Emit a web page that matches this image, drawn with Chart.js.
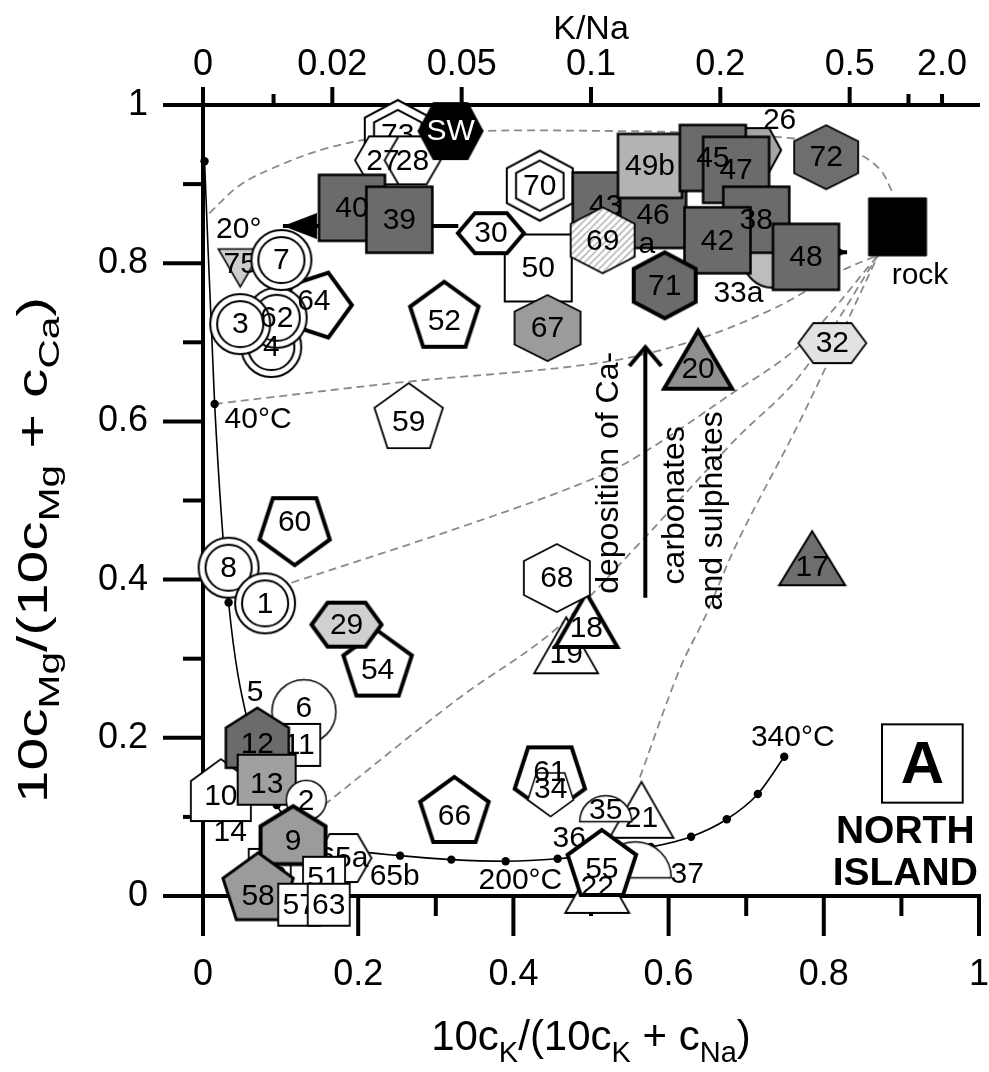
<!DOCTYPE html>
<html><head><meta charset="utf-8">
<script src="https://cdn.jsdelivr.net/npm/chart.js@4.4.1/dist/chart.umd.min.js"></script>
<style>
html,body{margin:0;padding:0;background:#fff;overflow:hidden;width:989px;height:1072px}
#wrap{position:absolute;left:0;top:0;width:1010px;height:1072px}
canvas{display:block}
</style></head>
<body><div id="wrap"><canvas id="c" width="1010" height="1072"></canvas></div>
<script>
// ================= DATA =================
// samples (draw order: first = bottom)
const sampleIds = ['73','27','28','SW','40','39','64','4','62','3','75','7','52','59','60','8','1','54','29','6','11','10','12','13','2','15','65a','9','51','58','57','63','66','61','34','19','18','68','21','35','22','37','55','50','30','70','43','46','49b','69','67','26','45','47','33a','38','42','48','71','72','rock','32','20','17'];
const sampleX = [0.251,0.232,0.270,0.319,0.192,0.253,0.148,0.088,0.095,0.048,0.048,0.101,0.311,0.265,0.118,0.033,0.080,0.225,0.185,0.130,0.124,0.023,0.070,0.082,0.133,0.086,0.181,0.116,0.156,0.071,0.124,0.162,0.324,0.447,0.448,0.468,0.494,0.456,0.565,0.519,0.508,0.557,0.514,0.432,0.371,0.434,0.519,0.580,0.576,0.515,0.444,0.709,0.657,0.687,0.734,0.713,0.663,0.777,0.595,0.803,0.895,0.811,0.638,0.785];
const sampleY = [0.962,0.930,0.930,0.967,0.870,0.855,0.747,0.694,0.731,0.723,0.794,0.804,0.731,0.603,0.465,0.415,0.370,0.290,0.343,0.233,0.191,0.134,0.200,0.147,0.121,0.033,0.048,0.077,0.023,0.008,-0.011,-0.011,0.105,0.150,0.131,0.317,0.349,0.402,0.109,0.094,0.014,0.023,0.038,0.794,0.838,0.898,0.873,0.861,0.923,0.829,0.718,0.943,0.933,0.918,0.807,0.855,0.829,0.808,0.772,0.934,0.846,0.699,0.678,0.427];
const sampleType = ['hexW2','hexFW','hexFW','hexSW','sqDark','sqDark','pentRot','circ2','circ2','circ2','triDLight','circ2','pentThick','pentThin','pentDThick','circ2','circ2','pentThick','hexFLight','circ','sqWS','houseW','houseDark','sqMed','circSm','sqWS','hexFW','houseMed','sqWS','pentMed','sqWS','sqWS','pentThick','pentDThick','pentDSm','triW','triWThick','hexW','triW','half','triW','halfL','pentThick','sqWhite','hexFWThick','hexW2','sqDark','sqDark','sqLight','hexHatch','hexMed','hexF26','sqDark','sqDark','circLight','sqDark','sqDark','sqDark','hexDarkThick','hexDark','rock','hexFLight2','triMedThick','triDark'];

// full-equilibrium curve (dots at 20 °C steps, 20 … 340 °C)
const curveX = [0.002,0.015,0.033,0.060,0.095,0.140,0.195,0.254,0.320,0.390,0.457,0.519,0.577,0.629,0.675,0.715,0.749];
const curveY = [0.929,0.622,0.371,0.210,0.115,0.075,0.058,0.051,0.046,0.044,0.047,0.054,0.062,0.075,0.097,0.129,0.176];

// dashed mixing lines
const mixOutlineX = [0.008,0.048,0.099,0.162,0.225,0.352,0.542,0.630,0.757,0.833,0.871,0.890];
const mixOutlineY = [0.863,0.899,0.924,0.946,0.958,0.967,0.967,0.965,0.958,0.943,0.920,0.887];
const mix40X = [0.015,0.251,0.504,0.622,0.732,0.824,0.870];
const mix40Y = [0.622,0.649,0.673,0.699,0.741,0.791,0.810];
const mix1X = [0.114,0.352,0.504,0.567,0.678,0.770,0.870];
const mix1Y = [0.396,0.473,0.528,0.560,0.633,0.697,0.810];
const mix2X = [0.156,0.327,0.453,0.554,0.685,0.770,0.870];
const mix2Y = [0.115,0.248,0.336,0.437,0.576,0.659,0.810];
const mix21X = [0.563,0.614,0.647,0.690,0.770,0.870];
const mix21Y = [0.150,0.286,0.353,0.450,0.602,0.810];

// arrows
const arrowShiftX = [0.329,0.103]; const arrowShiftY = [0.847,0.847];
const arrowShift2X = [0.708,0.830]; const arrowShift2Y = [0.814,0.814];
const arrowCaX = [0.570,0.570]; const arrowCaY = [0.377,0.694];

// axes
const bottomTickValues = [0,0.2,0.4,0.6,0.8,1];
const bottomTickLabels = ['0','0.2','0.4','0.6','0.8','1'];
const bottomMinor = [0.1,0.3,0.5,0.7,0.9];
const leftTickValues = [0,0.2,0.4,0.6,0.8,1];
const leftTickLabels = ['0','0.2','0.4','0.6','0.8','1'];
const leftMinor = [0.1,0.3,0.5,0.7,0.9];
const topRatioMajor = [0,0.02,0.05,0.1,0.2,0.5,2.0];
const topRatioLabels = ['0','0.02','0.05','0.1','0.2','0.5','2.0'];
const topRatioMinor = [0.01,1.0];
const topRatioShort = [0.01,1.0,2.0];

// free text notes
const noteTexts = ['26','33a','rock','5','14','36','37','65b','a','22','20°','40°C','200°C','340°C'];
const noteX = [0.743,0.690,0.924,0.067,0.035,0.472,0.624,0.247,0.572,0.508,0.046,0.071,0.409,0.760];
const noteY = [0.980,0.762,0.784,0.257,0.080,0.073,0.027,0.024,0.823,0.010,0.842,0.602,0.019,0.200];
const outsideLabelIds = ['26','33a','37','22','rock'];
const lateLabelIds = ['27','4','64','45','38','40','62','61'];

// ================= STYLES =================
const FONT = '"Liberation Sans", Arial, Helvetica, sans-serif';
const DARK = '#6b6b6b', MED = '#9b9b9b';
const STYLE = {
  hexW2:{shape:'hexP',rx:33,ry:35,fill:'#fff',lw:2,double:0.72},
  hexFW:{shape:'hexF',rx:28,ry:24,inset:14,fill:'#fff',lw:1.8},
  hexSW:{shape:'hexF',rx:32,ry:28,inset:15,fill:'#000',lw:2,text:'#fff'},
  sqDark:{shape:'sq',w:66,h:66,fill:DARK,lw:2.5},
  pentRot:{shape:'pent',R:34,rot:18,fill:'#fff',lw:4,ldx:-4,ldy:-4},
  circ2:{shape:'circ',r:30,fill:'#fff',lw:2,double:0.77},
  triDLight:{shape:'triD',w:44,h:38,fill:'#cdcdcd',lw:1.5,ldy:-4},
  pentThick:{shape:'pent',R:36,fill:'#fff',lw:4,ldy:3},
  pentThin:{shape:'pent',R:36,fill:'#fff',lw:1.8,ldy:3},
  pentDThick:{shape:'pentD',R:37,fill:'#fff',lw:4,ldy:-6},
  pentDSm:{shape:'pentD',R:24,fill:'#fff',lw:1.5,ldy:-4},
  hexFLight:{shape:'hexF',rx:35,ry:22,inset:16,fill:'#d0d0d0',lw:4},
  circ:{shape:'circ',r:32,fill:'#fff',lw:1.5,ldy:-4},
  sqWS:{shape:'sq',w:42,h:42,fill:'#fff',lw:1.8},
  houseW:{shape:'house',w:60,h:62,roof:22,fill:'#fff',lw:1.8,ldy:6},
  houseDark:{shape:'house',w:63,h:60,roof:20,fill:DARK,lw:2.5,ldy:6},
  sqMed:{shape:'sq',w:58,h:50,fill:'#a0a0a0',lw:2,ldy:4},
  circSm:{shape:'circ',r:20,fill:'#fff',lw:1.5},
  houseMed:{shape:'house',w:65,h:58,roof:20,fill:MED,lw:4,ldy:6},
  pentMed:{shape:'pent',R:37,fill:MED,lw:3,ldy:6},
  triW:{shape:'tri',w:64,h:56,fill:'#fff',lw:1.8,ldy:8},
  triWThick:{shape:'tri',w:62,h:54,fill:'#fff',lw:4,ldy:8},
  hexW:{shape:'hexP',rx:33,ry:34,fill:'#fff',lw:1.8},
  half:{shape:'half',r:26,fill:'#fff',lw:1.5,ldy:-12},
  halfL:{shape:'half',r:36,fill:'#fff',lw:1.5,ldy:-14},
  sqWhite:{shape:'sq',w:67,h:67,fill:'#fff',lw:2},
  hexFWThick:{shape:'hexF',rx:33,ry:20,inset:17,fill:'#fff',lw:4},
  sqLight:{shape:'sq',w:64,h:64,fill:'#b3b3b3',lw:2.5},
  hexHatch:{shape:'hexP',rx:32,ry:33,fill:'#fff',lw:1.8,hatch:true},
  hexMed:{shape:'hexP',rx:33,ry:33,fill:MED,lw:1.8},
  hexF26:{shape:'hexF',rx:28,ry:22,inset:12,fill:'#a5a5a5',lw:2},
  circLight:{shape:'circ',r:30,fill:'#bdbdbd',lw:2},
  hexDarkThick:{shape:'hexP',rx:31,ry:33,fill:DARK,lw:4},
  hexDark:{shape:'hexP',rx:32,ry:32,fill:'#6e6e6e',lw:1.8},
  rock:{shape:'sq',w:58,h:58,fill:'#000',lw:1},
  hexFLight2:{shape:'hexF',rx:34,ry:20,inset:15,fill:'#e2e2e2',lw:1.8},
  triMedThick:{shape:'tri',w:68,h:58,fill:'#8f8f8f',lw:4,ldy:9},
  triDark:{shape:'tri',w:66,h:54,fill:'#6e6e6e',lw:2,ldy:8}
};

function tracePath(g, st, k) {
  g.beginPath();
  switch (st.shape) {
    case 'sq': g.rect(-st.w/2*k, -st.h/2*k, st.w*k, st.h*k); break;
    case 'circ': g.arc(0,0,st.r*k,0,Math.PI*2); break;
    case 'half': g.moveTo(-st.r,0); g.arc(0,0,st.r,Math.PI,2*Math.PI); g.closePath(); break;
    case 'pent': case 'pentD': {
      const base = (st.shape==='pent' ? -90 : 90) + (st.rot||0);
      for (let j=0;j<5;j++){const a=(base+72*j)*Math.PI/180;const px=Math.cos(a)*st.R*k,py=Math.sin(a)*st.R*k; if(j) g.lineTo(px,py); else g.moveTo(px,py);}
      g.closePath(); break; }
    case 'hexP': {const rx=st.rx*k,ry=st.ry*k; g.moveTo(0,-ry); g.lineTo(rx,-ry/2); g.lineTo(rx,ry/2); g.lineTo(0,ry); g.lineTo(-rx,ry/2); g.lineTo(-rx,-ry/2); g.closePath(); break;}
    case 'hexF': {const rx=st.rx*k,ry=st.ry*k,ins=st.inset*k; g.moveTo(-rx,0); g.lineTo(-rx+ins,-ry); g.lineTo(rx-ins,-ry); g.lineTo(rx,0); g.lineTo(rx-ins,ry); g.lineTo(-rx+ins,ry); g.closePath(); break;}
    case 'house': {const w=st.w/2,h=st.h/2; g.moveTo(0,-h); g.lineTo(w,-h+st.roof); g.lineTo(w,h); g.lineTo(-w,h); g.lineTo(-w,-h+st.roof); g.closePath(); break;}
    case 'tri': g.moveTo(0,-st.h/2); g.lineTo(st.w/2,st.h/2); g.lineTo(-st.w/2,st.h/2); g.closePath(); break;
    case 'triD': g.moveTo(-st.w/2,-st.h/2); g.lineTo(st.w/2,-st.h/2); g.lineTo(0,st.h/2); g.closePath(); break;
  }
}
const markerCache = {};
function markerCanvas(type) {
  if (markerCache[type]) return markerCache[type];
  const st = STYLE[type];
  const ext = Math.max(st.w||0, st.h||0, 2*(st.r||0), 2*(st.R||0), 2*(st.rx||0), 2*(st.ry||0));
  const size = Math.ceil(ext + st.lw*2 + 6);
  const c = document.createElement('canvas'); c.width = size; c.height = size;
  const g = c.getContext('2d');
  g.translate(size/2, size/2);
  g.lineJoin = 'miter';
  tracePath(g, st, 1);
  g.fillStyle = st.fill; g.fill();
  if (st.hatch) {
    g.save(); tracePath(g, st, 1); g.clip();
    g.strokeStyle = '#a8a8a8'; g.lineWidth = 1.3;
    for (let t=-80;t<80;t+=7){ g.beginPath(); g.moveTo(t-40,40); g.lineTo(t+40,-40); g.stroke(); }
    g.restore();
  }
  tracePath(g, st, 1);
  g.lineWidth = st.lw; g.strokeStyle = '#000'; g.stroke();
  if (st.double) { tracePath(g, st, st.double); g.lineWidth = st.lw; g.stroke(); }
  markerCache[type] = c; return c;
}
function arrowHeadLeft(){const c=document.createElement('canvas');c.width=72;c.height=30;const g=c.getContext('2d');g.fillStyle='#000';g.beginPath();g.moveTo(36,15);g.lineTo(70,2);g.lineTo(70,28);g.closePath();g.fill();return c;}
function arrowHeadRight(){const c=document.createElement('canvas');c.width=32;c.height=18;const g=c.getContext('2d');g.fillStyle='#000';g.beginPath();g.moveTo(16,9);g.lineTo(2,2);g.lineTo(2,16);g.closePath();g.fill();return c;}
function chevronUp(){const c=document.createElement('canvas');c.width=44;c.height=50;const g=c.getContext('2d');g.strokeStyle='#000';g.lineWidth=4;g.lineJoin='miter';g.beginPath();g.moveTo(6,44);g.lineTo(22,25);g.lineTo(38,44);g.stroke();return c;}

const zip = (xs, ys) => xs.map((x,i)=>({x, y: ys[i]}));

// ================= DATASETS =================
const datasets = [];
function dashed(xs, ys){ return {data: zip(xs,ys), showLine:true, borderColor:'#8a8a8a', borderWidth:1.8, borderDash:[8,5], pointRadius:0, tension:0.35, clip:false, order:2000}; }
datasets.push(dashed(mixOutlineX, mixOutlineY));
datasets.push(dashed(mix40X, mix40Y));
datasets.push(dashed(mix1X, mix1Y));
datasets.push(dashed(mix2X, mix2Y));
datasets.push(dashed(mix21X, mix21Y));
datasets.push({data: zip(curveX, curveY), showLine:true, borderColor:'#000', borderWidth:1.6, cubicInterpolationMode:'monotone', pointRadius:4.2, pointBackgroundColor:'#000', pointBorderWidth:0, clip:false, order:1900});
datasets.push({data: zip(arrowShiftX, arrowShiftY), showLine:true, borderColor:'#000', borderWidth:4, pointRadius:[0,5], pointStyle:[false, arrowHeadLeft()], clip:false, order:1800});
datasets.push({data: zip(arrowShift2X, arrowShift2Y), showLine:true, borderColor:'#000', borderWidth:4, pointRadius:[0,5], pointStyle:[false, arrowHeadRight()], clip:false, order:1800});
datasets.push({data: zip(arrowCaX, arrowCaY), showLine:true, borderColor:'#000', borderWidth:4, pointRadius:[0,5], pointStyle:[false, chevronUp()], clip:false, order:1800});
sampleIds.forEach((id,i)=>{
  datasets.push({data:[{x:sampleX[i], y:sampleY[i]}], showLine:false, pointStyle: markerCanvas(sampleType[i]), pointRadius:30, pointHoverRadius:30, clip:false, order: sampleIds.length - i, sampleId:id, sampleType:sampleType[i]});
});

// ================= PLUGINS =================
const toX = r => 10*r/(10*r+1);
function drawSampleLabel(ctx, ds, el){
  const st = STYLE[ds.sampleType];
  ctx.save();
  ctx.font = '30px ' + FONT; ctx.fillStyle = st.text || '#000';
  ctx.textAlign = 'center'; ctx.textBaseline = 'middle';
  ctx.fillText(ds.sampleId, el.x + (st.ldx||0), el.y + (st.ldy||0) + 1);
  ctx.restore();
}
const labelPlugin = {
  id:'labels',
  afterDatasetDraw(chart, args){
    const ds = chart.data.datasets[args.index];
    if (!ds.sampleId || outsideLabelIds.includes(ds.sampleId) || lateLabelIds.includes(ds.sampleId)) return;
    drawSampleLabel(chart.ctx, ds, args.meta.data[0]);
  }
};
const ticksPlugin = {
  id:'ticks',
  beforeDatasetsDraw(chart){
    const ctx = chart.ctx, a = chart.chartArea, xs = chart.scales.x, ys = chart.scales.y, ts = chart.scales.x2;
    ctx.save(); ctx.strokeStyle='#000'; ctx.lineWidth=4; ctx.lineCap='butt';
    const ln=(x1,y1,x2,y2)=>{ctx.beginPath();ctx.moveTo(x1,y1);ctx.lineTo(x2,y2);ctx.stroke();};
    leftTickValues.forEach(v=>{const y=ys.getPixelForValue(v); ln(a.left-40,y,a.left+2,y);});
    leftMinor.forEach(v=>{const y=ys.getPixelForValue(v); ln(a.left-20,y,a.left+2,y);});
    bottomTickValues.forEach(v=>{const x=xs.getPixelForValue(v); ln(x,a.bottom-2,x,a.bottom+40);});
    bottomMinor.forEach(v=>{const x=xs.getPixelForValue(v); ln(x,a.bottom-2,x,a.bottom+20);});
    topRatioMajor.concat(topRatioMinor).forEach(r=>{const x=ts.getPixelForValue(toX(r)); const len = topRatioShort.includes(r)?11:18; ln(x,a.top+2,x,a.top-len);});
    ctx.restore();
  }
};
function drawRich(ctx, segs, x, y, big, small, subDy){
  let w = 0;
  segs.forEach(s=>{ctx.font=(s[1]?small:big)+'px '+FONT; w+=ctx.measureText(s[0]).width;});
  let cx = x - w/2;
  segs.forEach(s=>{ctx.font=(s[1]?small:big)+'px '+FONT; ctx.fillText(s[0], cx, y + (s[1]?subDy:0)); cx += ctx.measureText(s[0]).width;});
  return w;
}
const annoPlugin = {
  id:'anno',
  afterDatasetsDraw(chart){
    const ctx = chart.ctx, xs = chart.scales.x, ys = chart.scales.y;
    // late labels (drawn above overlapping markers)
    chart.data.datasets.forEach((ds,i)=>{
      if (ds.sampleId && lateLabelIds.includes(ds.sampleId)) drawSampleLabel(ctx, ds, chart.getDatasetMeta(i).data[0]);
    });
    ctx.save(); ctx.fillStyle='#000'; ctx.textAlign='center'; ctx.textBaseline='middle';
    ctx.font = '30px ' + FONT;
    noteTexts.forEach((t,i)=>ctx.fillText(t, xs.getPixelForValue(noteX[i]), ys.getPixelForValue(noteY[i])));
    // rotated arrow text
    ctx.font = '32px ' + FONT;
    [['deposition of Ca-',0.524,0.535],['carbonates',0.608,0.494],['and sulphates',0.657,0.487]].forEach(r=>{
      ctx.save(); ctx.translate(xs.getPixelForValue(r[1]), ys.getPixelForValue(r[2])); ctx.rotate(-Math.PI/2); ctx.fillText(r[0],0,0); ctx.restore();
    });
    // panel box
    const bx1 = xs.getPixelForValue(0.875), bx2 = xs.getPixelForValue(0.979), by1 = ys.getPixelForValue(0.217), by2 = ys.getPixelForValue(0.118);
    ctx.lineWidth = 2; ctx.strokeStyle='#000'; ctx.fillStyle='#fff';
    ctx.fillRect(bx1,by1,bx2-bx1,by2-by1); ctx.strokeRect(bx1,by1,bx2-bx1,by2-by1);
    ctx.fillStyle='#000'; ctx.font = 'bold 60px ' + FONT; ctx.fillText('A',(bx1+bx2)/2,(by1+by2)/2+3);
    ctx.font = 'bold 39px ' + FONT;
    ctx.fillText('NORTH', xs.getPixelForValue(0.905), ys.getPixelForValue(0.081));
    ctx.fillText('ISLAND', xs.getPixelForValue(0.905), ys.getPixelForValue(0.028));
    ctx.restore();
  },
  afterDraw(chart){
    const ctx = chart.ctx, a = chart.chartArea;
    ctx.save(); ctx.fillStyle='#000'; ctx.textAlign='left'; ctx.textBaseline='alphabetic';
    // x title
    drawRich(ctx, [['10c',0],['K',1],['/(10c',0],['K',1],[' + c',0],['Na',1],[')',0]], (a.left+a.right)/2, 1050, 42, 29, 12);
    // y title (rotated, stretched along its length as in the original)
    ctx.save();
    const segs = [['10c',0],['Mg',1],['/(10c',0],['Mg',1],[' + c',0],['Ca',1],[')',0]];
    let w=0; segs.forEach(s=>{ctx.font=(s[1]?29:42)+'px '+FONT; w+=ctx.measureText(s[0]).width;});
    const stretch = 1.4;
    ctx.translate(47, 297 + w*stretch/2); ctx.rotate(-Math.PI/2); ctx.scale(stretch,1);
    drawRich(ctx, segs, 0, 0, 42, 29, 12);
    ctx.restore();
    // top title
    ctx.textAlign='center'; ctx.textBaseline='middle'; ctx.font='34px '+FONT;
    ctx.fillText('K/Na', (a.left+a.right)/2, 30);
    ctx.restore();
  }
};

// ================= CHART =================
Chart.defaults.font.family = FONT;
Chart.defaults.color = '#000';
new Chart(document.getElementById('c'), {
  type:'scatter',
  data:{datasets},
  options:{
    responsive:false, animation:false, events:[], devicePixelRatio:1,
    layout:{padding:{left:0,right:17,top:0,bottom:0}},
    plugins:{legend:{display:false}, tooltip:{enabled:false}},
    scales:{
      x:{type:'linear', position:'bottom', min:0, max:1,
        afterBuildTicks:s=>{s.ticks = bottomTickValues.map(v=>({value:v}));},
        afterFit:s=>{s.height = 176;},
        ticks:{callback:(v,i)=>bottomTickLabels[i], font:{size:36}, color:'#000', padding:17, maxRotation:0, autoSkip:false},
        grid:{display:true, drawOnChartArea:false, drawTicks:true, tickLength:40, tickColor:'rgba(0,0,0,0)'},
        border:{display:true, color:'#000', width:4}},
      x2:{type:'linear', position:'top', min:0, max:1,
        afterBuildTicks:s=>{s.ticks = topRatioMajor.map(r=>({value:toX(r)}));},
        afterFit:s=>{s.height = 105;},
        ticks:{callback:(v,i)=>topRatioLabels[i], font:{size:36}, color:'#000', padding:0, maxRotation:0, autoSkip:false},
        grid:{display:true, drawOnChartArea:false, drawTicks:true, tickLength:18, tickColor:'rgba(0,0,0,0)'},
        border:{display:true, color:'#000', width:4}},
      y:{type:'linear', position:'left', min:0, max:1,
        afterBuildTicks:s=>{s.ticks = leftTickValues.map(v=>({value:v}));},
        afterFit:s=>{s.width = 203;},
        ticks:{callback:(v,i)=>leftTickLabels[i], font:{size:36}, color:'#000', padding:15, autoSkip:false},
        grid:{display:true, drawOnChartArea:false, drawTicks:true, tickLength:40, tickColor:'rgba(0,0,0,0)'},
        border:{display:true, color:'#000', width:4}}
    }
  },
  plugins:[ticksPlugin, labelPlugin, annoPlugin]
});
</script>
</body></html>
